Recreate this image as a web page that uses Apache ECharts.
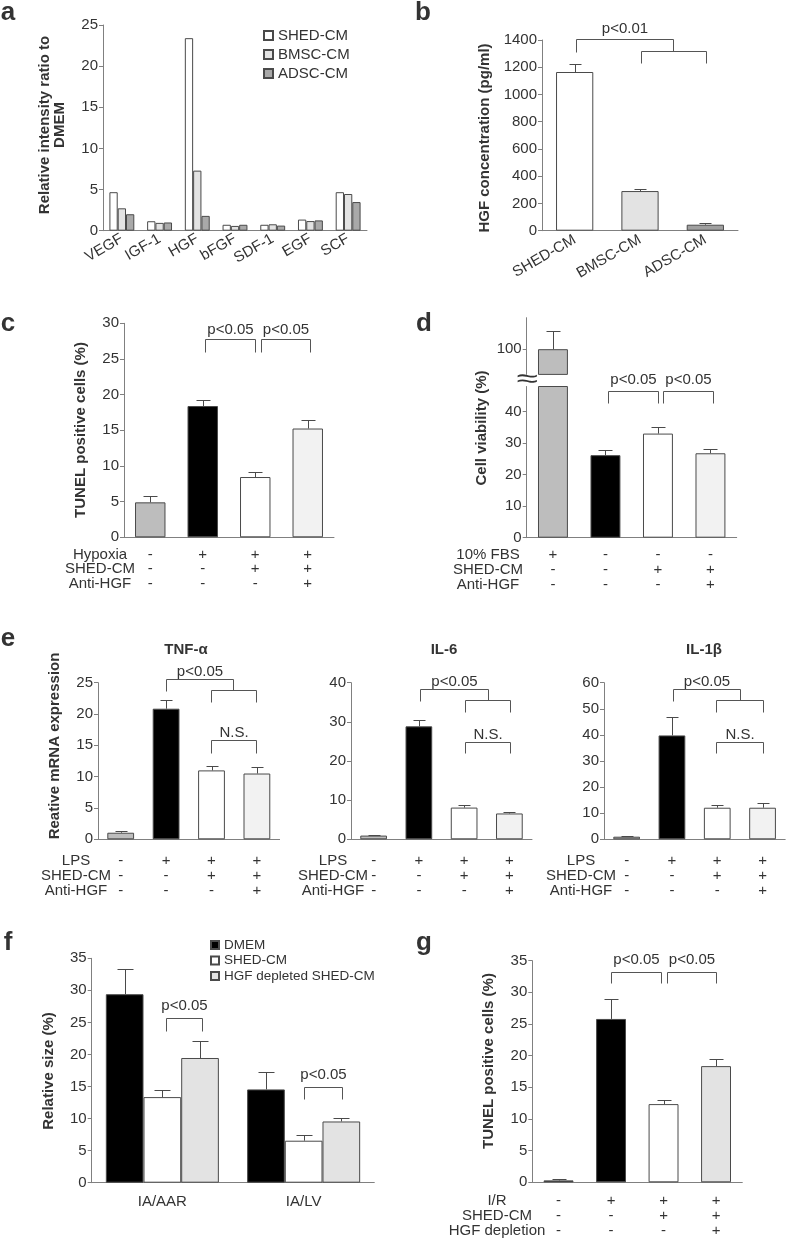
<!DOCTYPE html>
<html><head><meta charset="utf-8">
<script src="https://cdn.jsdelivr.net/npm/echarts@6/dist/echarts.min.js"></script>
<style>html,body{margin:0;padding:0;background:#fff}#c{width:787px;height:1242px}</style>
</head><body><div id="c"></div>
<script>
// ---------------- DATA ----------------
// Panel a
const aCategories = ['VEGF','IGF-1','HGF','bFGF','SDF-1','EGF','SCF'];
const aSeriesNames = ['SHED-CM','BMSC-CM','ADSC-CM'];
const aSHED = [4.68, 1.15, 23.4, 0.72, 0.72, 1.35, 4.68];
const aBMSC = [2.72, 0.95, 7.3, 0.58, 0.78, 1.17, 4.46];
const aADSC = [2.0, 1.0, 1.8, 0.72, 0.62, 1.25, 3.48];
const aYTicks = [0,5,10,15,20,25];
// Panel b
const bCategories = ['SHED-CM','BMSC-CM','ADSC-CM'];
const bMean = [1165, 291, 44];
const bErr = [57, 15, 10];
const bYTicks = [0,200,400,600,800,1000,1200,1400];
const bBrackets = [[0.02,1.5,1405,1312,1319,'p<0.01'],[1.02,2.01,1319,1231,1231,'']];
// Panel c
const cRowNames = ['Hypoxia','SHED-CM','Anti-HGF'];
const cSigns = [['-','+','+','+'],['-','-','+','+'],['-','-','-','+']];
const cMean = [4.9, 18.4, 8.45, 15.25];
const cErr = [0.95, 0.85, 0.65, 1.2];
const cYTicks = [0,5,10,15,20,25,30];
const cBrackets = [[1.05,2.0,27.76,26.0,26.0,'p<0.05'],[2.1,3.05,27.76,26.0,26.0,'p<0.05']];
// Panel d (broken axis)
const dRowNames = ['10% FBS','SHED-CM','Anti-HGF'];
const dSigns = [['+','-','-','-'],['-','-','+','+'],['-','-','-','+']];
const dMean = [100, 26.2, 33.05, 26.8];
const dErr = [5.9, 1.6, 2.25, 1.5];
const dYTicksLow = [0,10,20,30,40];
const dYTicksHigh = [100];
const dLowRange = [0, 48];
const dHighRange = [92, 110];
const dBrackets = [[1.05,2.0,46.6,42.9,42.9,'p<0.05'],[2.09,3.04,46.6,42.9,42.9,'p<0.05']];
// Panel e
const eRowNames = ['LPS','SHED-CM','Anti-HGF'];
const eSigns = [['-','+','+','+'],['-','-','+','+'],['-','-','-','+']];
const eTitles = ['TNF-\u03b1','IL-6','IL-1\u03b2'];
const eTNFMean = [1.05, 20.85, 11.0, 10.5];
const eTNFErr = [0.25, 1.45, 0.7, 1.05];
const eTNFTicks = [0,5,10,15,20,25];
const eTNFBrackets = [[1.0,2.48,25.57,23.65,23.8,'p<0.05'],[1.99,2.98,23.8,21.95,21.95,''],[1.99,2.98,15.84,13.8,13.8,'N.S.']];
const eIL6Mean = [0.95, 28.85, 8.1, 6.6];
const eIL6Err = [0.25, 1.55, 0.6, 0.45];
const eIL6Ticks = [0,10,20,30,40];
const eIL6Brackets = [[1.02,2.53,38.3,35.3,35.5,'p<0.05'],[2.03,3.02,35.5,32.4,32.4,''],[2.03,3.02,24.9,22.1,22.1,'N.S.']];
const eIL1bMean = [1.0, 39.8, 12.1, 12.1];
const eIL1bErr = [0.4, 7.2, 0.9, 1.8];
const eIL1bTicks = [0,10,20,30,40,50,60];
const eIL1bBrackets = [[1.02,2.5,57.4,53.0,53.2,'p<0.05'],[1.97,3.02,53.2,48.6,48.6,''],[1.97,3.02,37.4,33.2,33.2,'N.S.']];
// Panel f
const fCategories = ['IA/AAR','IA/LV'];
const fSeriesNames = ['DMEM','SHED-CM','HGF depleted SHED-CM'];
const fDMEM = [29.4, 14.55];
const fDMEMErr = [3.9, 2.7];
const fSHED = [13.35, 6.55];
const fSHEDErr = [1.05, 0.9];
const fHGF = [19.45, 9.55];
const fHGFErr = [2.6, 0.5];
const fYTicks = [0,5,10,15,20,25,30,35];
const fBrackets = [[0.024,0.283,25.65,23.67,23.67,'p<0.05'],[1.002,1.274,14.88,13.0,13.0,'p<0.05']];
// Panel g
const gRowNames = ['I/R','SHED-CM','HGF depletion'];
const gSigns = [['-','+','+','+'],['-','-','+','+'],['-','-','-','+']];
const gMean = [0.3, 25.8, 12.35, 18.35];
const gErr = [0.15, 3.2, 0.65, 1.15];
const gYTicks = [0,5,10,15,20,25,30,35];
const gBrackets = [[1.0,1.95,33.15,31.5,31.5,'p<0.05'],[2.06,3.0,33.15,31.5,31.5,'p<0.05']];

// ---------------- STYLE ----------------
const FONT = '"Liberation Sans", Arial, Helvetica, sans-serif';
const TXT = '#333333';
const AX = '#808080';
const EDGE = '#4a4a4a';
const ERR = '#4a4a4a';
const C4 = ['#bdbdbd','#000000','#ffffff','#f2f2f2'];

const grids = [
  {left:103, top:25, width:264, height:205.7},       //0 a
  {left:542, top:40, width:196, height:190.7},       //1 b
  {left:124, top:323.3, width:210, height:214},      //2 c
  {left:526.7, top:317.7, width:210, height:56.7},   //3 d upper
  {left:526.7, top:386.5, width:210, height:151.2},  //4 d lower
  {left:98, top:682.7, width:181.6, height:156.6},   //5 e TNF
  {left:351, top:682.7, width:181, height:156.6},    //6 e IL-6
  {left:604, top:682.7, width:181.2, height:156.6},  //7 e IL-1b
  {left:91.7, top:958.3, width:282.6, height:224.4}, //8 f
  {left:532.3, top:960.7, width:210, height:221.6}   //9 g
];

function valueAxis(gi, ticks, range) {
  const min = range ? range[0] : ticks[0];
  const max = range ? range[1] : ticks[ticks.length-1];
  const ax = {
    type:'value', gridIndex:gi, min:min, max:max,
    axisLine:{show:true, lineStyle:{color:AX, width:1}},
    axisTick:{show:true, length:4, lineStyle:{color:AX}, customValues:ticks},
    axisLabel:{show:true, color:TXT, fontFamily:FONT, fontSize:15, margin:5, customValues:ticks,
      formatter:v => String(v)},
    splitLine:{show:false}
  };
  if (!range && ticks.length > 1) ax.interval = ticks[1]-ticks[0];
  return ax;
}
function catAxis(gi, cats, label, show) {
  return {
    type:'category', gridIndex:gi, data:cats, boundaryGap:true, show: show !== false,
    axisLine:{show:true, lineStyle:{color:AX, width:1}},
    axisTick:{show:false},
    axisLabel:Object.assign({interval:0, color:TXT, fontFamily:FONT, fontSize:15}, label||{})
  };
}
function signAxis(gi, signs, margin, lh) {
  const cats = signs[0].map((_, i) => String(i));
  return catAxis(gi, cats, {
    margin:margin, lineHeight:lh, fontSize:15,
    formatter:(v, i) => signs.map(r => r[i]).join('\n')
  });
}
function barSeries(gi, name, values, colors, gap) {
  return {
    name:name, type:'bar', xAxisIndex:gi, yAxisIndex:gi,
    data: values.map((v, i) => Array.isArray(colors) ? {value:v, itemStyle:{color:colors[i]}} : v),
    itemStyle:{color:Array.isArray(colors) ? '#ccc' : colors, borderColor:EDGE, borderWidth:1},
    barCategoryGap:gap, barGap:'0%', silent:true, clip:true
  };
}
function errPoints(means, errs, keep) {
  const pts = [];
  means.forEach((m, i) => { if (!keep || keep(m)) pts.push([i, m, m + errs[i]]); });
  return pts;
}
function errSeries(gi, pts, offset, cap) {
  return {
    type:'custom', xAxisIndex:gi, yAxisIndex:gi, silent:true, z:4, clip:false,
    data:pts,
    renderItem:function(params, api){
      const i = api.value(0);
      const b = api.coord([i, api.value(1)]);
      const t = api.coord([i, api.value(2)]);
      const bw = api.size([1, 0], [i, 0])[0];
      const x = Math.round(b[0] + offset*bw) + 0.5;
      const ty = Math.round(t[1]) + 0.5;
      return {type:'group', children:[
        {type:'line', shape:{x1:x, y1:b[1], x2:x, y2:ty}, style:{stroke:ERR, lineWidth:1}},
        {type:'line', shape:{x1:x-cap, y1:ty, x2:x+cap, y2:ty}, style:{stroke:ERR, lineWidth:1}}
      ]};
    }
  };
}
function bracketSeries(gi, brackets, gap) {
  return {
    type:'custom', xAxisIndex:gi, yAxisIndex:gi, silent:true, z:6, clip:false,
    data: brackets.map(b => [0, b[2]]),
    renderItem:function(params, api){
      const b = brackets[params.dataIndex];
      const P = (x, y) => {
        const f = Math.floor(x);
        const c = api.coord([f, y]);
        const bw = api.size([1, 0], [f, y])[0];
        return [Math.round(c[0] + (x - f)*bw) + 0.5, Math.round(c[1]) + 0.5];
      };
      const p1 = P(b[0], b[3]), p2 = P(b[0], b[2]), p3 = P(b[1], b[2]), p4 = P(b[1], b[4]);
      const ch = [{type:'polyline', shape:{points:[p1,p2,p3,p4]}, style:{stroke:'#555', fill:null, lineWidth:1}}];
      if (b[5]) ch.push({type:'text', style:{text:b[5], x:(p2[0]+p3[0])/2, y:p2[1]-gap,
        textAlign:'center', align:'center', textVerticalAlign:'middle', verticalAlign:'middle',
        font:'15px ' + FONT, fill:TXT}});
      return {type:'group', children:ch};
    }
  };
}
function gText(text, x, y, font, extra) {
  return Object.assign({type:'text', x:x, y:y, silent:true, z:10,
    style:{text:text, font:font, fill:TXT, textAlign:'center', align:'center',
      textVerticalAlign:'middle', verticalAlign:'middle'}}, extra||{});
}
function rowLabels(names, cx, grid, margin, lh) {
  const y0 = grid.top + grid.height + margin + lh/2;
  return names.map((n, k) => gText(n, cx, y0 + k*lh, '15px ' + FONT));
}

// ---------------- AXES ----------------
const xAxis = [
  catAxis(0, aCategories, {rotate:30, margin:7}),
  catAxis(1, bCategories, {rotate:30, margin:8}),
  signAxis(2, cSigns, 10, 14.7),
  catAxis(3, ['0','1','2','3'], {show:false}, false),
  signAxis(4, dSigns, 10, 14.7),
  signAxis(5, eSigns, 14, 15),
  signAxis(6, eSigns, 14, 15),
  signAxis(7, eSigns, 14, 15),
  catAxis(8, fCategories, {margin:12}),
  signAxis(9, gSigns, 11, 15)
];
const yAxis = [
  valueAxis(0, aYTicks),
  valueAxis(1, bYTicks),
  valueAxis(2, cYTicks),
  valueAxis(3, dYTicksHigh, dHighRange),
  valueAxis(4, dYTicksLow, dLowRange),
  valueAxis(5, eTNFTicks),
  valueAxis(6, eIL6Ticks),
  valueAxis(7, eIL1bTicks),
  valueAxis(8, fYTicks),
  valueAxis(9, gYTicks)
];

// ---------------- SERIES ----------------
const series = [];
// a
const aColors = ['#ffffff','#e3e3e3','#a9a9a9'];
[aSHED, aBMSC, aADSC].forEach((vals, k) => series.push(barSeries(0, aSeriesNames[k], vals, aColors[k], '34%')));
// b
series.push(barSeries(1, 'b', bMean, ['#ffffff','#e3e3e3','#a0a0a0'], '43%'));
series.push(errSeries(1, errPoints(bMean, bErr), 0, 6));
series.push(bracketSeries(1, bBrackets, 11));
// c
series.push(barSeries(2, 'c', cMean, C4, '42%'));
series.push(errSeries(2, errPoints(cMean, cErr), 0, 7));
series.push(bracketSeries(2, cBrackets, 10));
// d
series.push(barSeries(3, 'dHigh', dMean.map(v => v > dHighRange[0] ? v : '-'), C4, '43%'));
series.push(barSeries(4, 'dLow', dMean, C4, '43%'));
series.push(errSeries(3, errPoints(dMean, dErr, m => m > dHighRange[0]), 0, 7));
series.push(errSeries(4, errPoints(dMean, dErr, m => m < dLowRange[1]), 0, 7));
series.push(bracketSeries(4, dBrackets, 11.5));
// e
[[eTNFMean, eTNFErr, eTNFBrackets], [eIL6Mean, eIL6Err, eIL6Brackets], [eIL1bMean, eIL1bErr, eIL1bBrackets]].forEach((p, k) => {
  series.push(barSeries(5+k, 'e'+k, p[0], C4, '41%'));
  series.push(errSeries(5+k, errPoints(p[0], p[1]), 0, 6));
  series.push(bracketSeries(5+k, p[2], 8));
});
// f
const fColors = ['#000000','#ffffff','#e3e3e3'];
const fOffsets = [-0.8/3, 0, 0.8/3];
[[fDMEM, fDMEMErr], [fSHED, fSHEDErr], [fHGF, fHGFErr]].forEach((p, k) => {
  series.push(barSeries(8, fSeriesNames[k], p[0], fColors[k], '20%'));
  series.push(errSeries(8, errPoints(p[0], p[1]), fOffsets[k], 8));
});
series.push(bracketSeries(8, fBrackets, 13));
// g
series.push(barSeries(9, 'g', gMean, ['#000000','#000000','#ffffff','#e3e3e3'], '43%'));
series.push(errSeries(9, errPoints(gMean, gErr), 0, 7));
series.push(bracketSeries(9, gBrackets, 13));

// ---------------- TEXT / GRAPHIC ----------------
const LETTER = 'bold 26px ' + FONT;
const TITLE = 'bold 15px ' + FONT;
const R90 = Math.PI/2;
const graphic = [
  gText('a', 8, 13, LETTER), gText('b', 423, 13, LETTER),
  gText('c', 8, 324, LETTER), gText('d', 424, 324, LETTER),
  gText('e', 8, 639, LETTER), gText('f', 8, 943, LETTER), gText('g', 424, 943, LETTER),
  gText('Relative intensity ratio to\nDMEM', 52, 125, TITLE, {rotation:R90, style:{text:'Relative intensity ratio to\nDMEM', font:TITLE, fill:TXT, textAlign:'center', align:'center', textVerticalAlign:'middle', verticalAlign:'middle', lineHeight:15}}),
  gText('HGF concentration (pg/ml)', 485, 138, TITLE, {rotation:R90}),
  gText('TUNEL positive cells (%)', 81, 430, TITLE, {rotation:R90}),
  gText('Cell viability (%)', 482, 428, TITLE, {rotation:R90}),
  gText('Reative mRNA expression', 55, 746, TITLE, {rotation:R90}),
  gText('Relative size (%)', 49, 1071, TITLE, {rotation:R90}),
  gText('TUNEL positive cells (%)', 489, 1061, TITLE, {rotation:R90}),
  gText(eTitles[0], 186, 650, TITLE), gText(eTitles[1], 444, 650, TITLE), gText(eTitles[2], 704, 650, TITLE),
  gText('\u2248', 527, 380, '26px ' + FONT, {scaleX:1.5})
].concat(
  rowLabels(cRowNames, 100, grids[2], 10, 14.7),
  rowLabels(dRowNames, 488, grids[4], 10, 14.7),
  rowLabels(eRowNames, 76, grids[5], 14, 15),
  rowLabels(eRowNames, 333, grids[6], 14, 15),
  rowLabels(eRowNames, 581, grids[7], 14, 15),
  rowLabels(gRowNames, 497, grids[9], 11, 15)
);

const legendBase = {orient:'vertical', icon:'rect', selectedMode:false, padding:0};
const option = {
  animation:false,
  backgroundColor:'#ffffff',
  textStyle:{fontFamily:FONT},
  grid:grids,
  xAxis:xAxis,
  yAxis:yAxis,
  legend:[
    Object.assign({}, legendBase, {data:aSeriesNames, left:263, top:28, itemWidth:9, itemHeight:9, itemGap:4,
      textStyle:{fontSize:15, color:TXT, fontFamily:FONT, lineHeight:15}}),
    Object.assign({}, legendBase, {data:fSeriesNames, left:210, top:938, itemWidth:8, itemHeight:8, itemGap:1.5,
      textStyle:{fontSize:13.5, color:TXT, fontFamily:FONT, lineHeight:14}})
  ],
  series:series,
  graphic:graphic
};
const chart = echarts.init(document.getElementById('c'));
chart.setOption(option);
</script>
</body></html>
